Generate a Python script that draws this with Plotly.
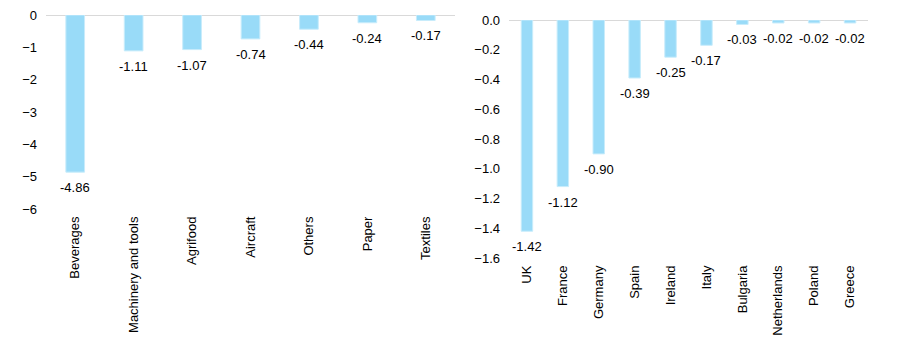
import plotly.graph_objects as go

sectors = ["Beverages", "Machinery and tools", "Agrifood", "Aircraft", "Others", "Paper", "Textiles"]
sector_values = [-4.86, -1.11, -1.07, -0.74, -0.44, -0.24, -0.17]

countries = ["UK", "France", "Germany", "Spain", "Ireland", "Italy", "Bulgaria", "Netherlands", "Poland", "Greece"]
country_values = [-1.42, -1.12, -0.90, -0.39, -0.25, -0.17, -0.03, -0.02, -0.02, -0.02]

W, H = 911, 353
BAR = "#99DBF8"
FONT = "Liberation Sans, Arial, sans-serif"
FS = 13

fig = go.Figure()
fig.add_trace(go.Bar(
    x=sectors, y=sector_values, xaxis="x", yaxis="y",
    marker=dict(color=BAR, line=dict(color="#C8ECFB", width=1)),
    width=0.32, hoverinfo="x+y",
))
fig.add_trace(go.Bar(
    x=countries, y=country_values, xaxis="x2", yaxis="y2",
    marker=dict(color=BAR, line=dict(color="#C8ECFB", width=1)),
    width=0.32, hoverinfo="x+y",
))

annotations = []
for cats, vals, xr, yr in [(sectors, sector_values, "x", "y"), (countries, country_values, "x2", "y2")]:
    for c, v in zip(cats, vals):
        annotations.append(dict(
            x=c, y=v, xref=xr, yref=yr, text=f"{v:.2f}", showarrow=False,
            xanchor="center", yanchor="top", yshift=-6,
            font=dict(size=FS, color="#000000", family=FONT),
        ))

def px_x(a, b):
    return [a / W, b / W]

def px_y(top, bottom):
    return [1 - bottom / H, 1 - top / H]

axis_font = dict(size=FS, color="#000000", family=FONT)

fig.update_layout(
    template="none",
    width=W, height=H,
    margin=dict(l=0, r=0, t=0, b=0, pad=0),
    paper_bgcolor="white", plot_bgcolor="white",
    showlegend=False,
    font=dict(family=FONT, size=FS, color="#000000"),
    annotations=annotations,
    xaxis=dict(domain=px_x(46, 455), anchor="y", tickangle=-90, showgrid=False,
               showline=False, ticks="", tickfont=axis_font, fixedrange=True,
               automargin=False, zeroline=False, ticklabelstandoff=4),
    yaxis=dict(domain=px_y(15, 209), anchor="x", range=[-6, 0], dtick=1,
               showgrid=False, zeroline=True, zerolinecolor="#D9D9D9", zerolinewidth=1,
               showline=False, ticks="", tickfont=axis_font, ticklabelstandoff=8,
               automargin=False, fixedrange=True),
    xaxis2=dict(domain=px_x(509, 868), anchor="y2", tickangle=-90, showgrid=False,
                showline=False, ticks="", tickfont=axis_font, fixedrange=True,
                automargin=False, zeroline=False, ticklabelstandoff=4),
    yaxis2=dict(domain=px_y(20, 258), anchor="x2", range=[-1.6, 0], dtick=0.2,
                tickformat=".1f", showgrid=False, zeroline=True, zerolinecolor="#D9D9D9",
                zerolinewidth=1, showline=False, ticks="", tickfont=axis_font,
                ticklabelstandoff=8, automargin=False, fixedrange=True),
)

fig.write_html("out.html")
